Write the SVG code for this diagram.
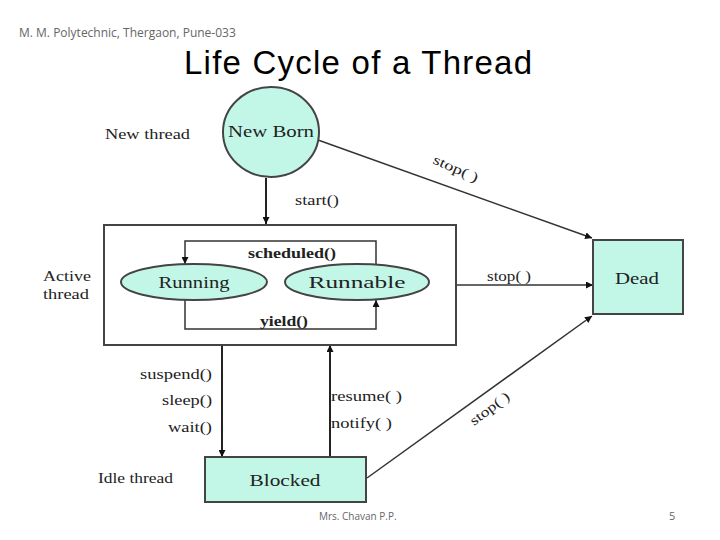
<svg xmlns="http://www.w3.org/2000/svg" width="720" height="540" viewBox="0 0 720 540">
<defs>
<marker id="ah" viewBox="0 0 10 10" refX="10" refY="5" markerWidth="7" markerHeight="7" orient="auto" markerUnits="userSpaceOnUse">
<path d="M0,0 L10,5 L0,10 z" fill="#111"/>
</marker>
<style>
.node{fill:#c2f7e8;stroke:#444;stroke-width:2}
.frame{fill:none;stroke:#444;stroke-width:2}
.ln{fill:none;stroke:#333;stroke-width:1.5}
.lnb{fill:none;stroke:#222;stroke-width:2}
.nt{font-family:"Liberation Serif",serif;font-size:17px;fill:#222;text-anchor:middle}
.lb{font-family:"Liberation Serif",serif;font-size:14px;fill:#222}
.lbb{font-family:"Liberation Serif",serif;font-size:14px;font-weight:bold;fill:#222}
.hd{font-family:"Open Sans","Liberation Sans",sans-serif;fill:#666}
</style>
</defs>
<rect width="720" height="540" fill="#fff"/>
<text class="hd" x="19" y="37" font-size="12">M. M. Polytechnic, Thergaon, Pune-033</text>
<text x="184" y="74" font-family="Liberation Sans,sans-serif" font-size="33" fill="#000" textLength="348">Life Cycle of a Thread</text>
<text class="hd" x="319" y="520" font-size="10">Mrs. Chavan P.P.</text>
<text class="hd" x="669" y="520" font-size="11">5</text>

<g id="connectors">
<line class="lnb" x1="266" y1="178" x2="266" y2="224" marker-end="url(#ah)"/>
<line class="ln" x1="318" y1="140" x2="592" y2="238" marker-end="url(#ah)"/>
<line class="ln" x1="456" y1="285" x2="593" y2="285" marker-end="url(#ah)"/>
<line class="ln" x1="367" y1="478" x2="592" y2="316" marker-end="url(#ah)"/>
<polyline class="ln" points="376,264 376,241 185,241 185,264" marker-end="url(#ah)"/>
<polyline class="ln" points="185,300 185,329 376,329 376,300" marker-end="url(#ah)"/>
<line class="lnb" x1="222" y1="345" x2="222" y2="457" marker-end="url(#ah)"/>
<line class="lnb" x1="330" y1="457" x2="330" y2="345" marker-end="url(#ah)"/>
<text class="lb" x="295" y="205" textLength="44" lengthAdjust="spacingAndGlyphs">start()</text>
<text class="lb" transform="translate(432,163) rotate(24)" textLength="48" lengthAdjust="spacingAndGlyphs">stop( )</text>
<text class="lb" x="487" y="281" textLength="44" lengthAdjust="spacingAndGlyphs">stop( )</text>
<text class="lb" transform="translate(474,426) rotate(-37)" textLength="46" lengthAdjust="spacingAndGlyphs">stop( )</text>
<text class="lbb" x="248" y="258" textLength="88" lengthAdjust="spacingAndGlyphs">scheduled()</text>
<text class="lbb" x="260" y="326" textLength="48" lengthAdjust="spacingAndGlyphs">yield()</text>
<text class="lb" x="140" y="379" textLength="72" lengthAdjust="spacingAndGlyphs">suspend()</text>
<text class="lb" x="162" y="405" textLength="50" lengthAdjust="spacingAndGlyphs">sleep()</text>
<text class="lb" x="168" y="432" textLength="44" lengthAdjust="spacingAndGlyphs">wait()</text>
<text class="lb" x="331" y="401" textLength="71" lengthAdjust="spacingAndGlyphs">resume( )</text>
<text class="lb" x="331" y="428" textLength="61" lengthAdjust="spacingAndGlyphs">notify( )</text>
</g>

<g id="labels">
<text class="lb" x="105" y="139" textLength="85" lengthAdjust="spacingAndGlyphs">New thread</text>
<text class="lb" x="43" y="281" textLength="48" lengthAdjust="spacingAndGlyphs">Active</text>
<text class="lb" x="43" y="299" textLength="46" lengthAdjust="spacingAndGlyphs">thread</text>
<text class="lb" x="98" y="483" textLength="75" lengthAdjust="spacingAndGlyphs">Idle thread</text>
</g>

<g id="newborn">
<ellipse class="node" cx="271" cy="132" rx="48" ry="45"/>
<text class="nt" x="271" y="137" textLength="86" lengthAdjust="spacingAndGlyphs">New Born</text>
</g>
<g id="active">
<rect class="frame" x="104" y="225" width="352" height="120"/>
</g>
<g id="running">
<ellipse class="node" cx="194" cy="282" rx="73" ry="18"/>
<text class="nt" x="194" y="288" textLength="71" lengthAdjust="spacingAndGlyphs">Running</text>
</g>
<g id="runnable">
<ellipse class="node" cx="357" cy="282" rx="72" ry="18"/>
<text class="nt" x="357" y="288" textLength="97" lengthAdjust="spacingAndGlyphs">Runnable</text>
</g>
<g id="dead">
<rect class="node" x="593" y="240" width="90" height="74"/>
<text class="nt" x="637" y="284" textLength="44" lengthAdjust="spacingAndGlyphs">Dead</text>
</g>
<g id="blocked">
<rect class="node" x="205" y="457" width="161" height="45"/>
<text class="nt" x="285" y="486" textLength="71" lengthAdjust="spacingAndGlyphs">Blocked</text>
</g>
</svg>
